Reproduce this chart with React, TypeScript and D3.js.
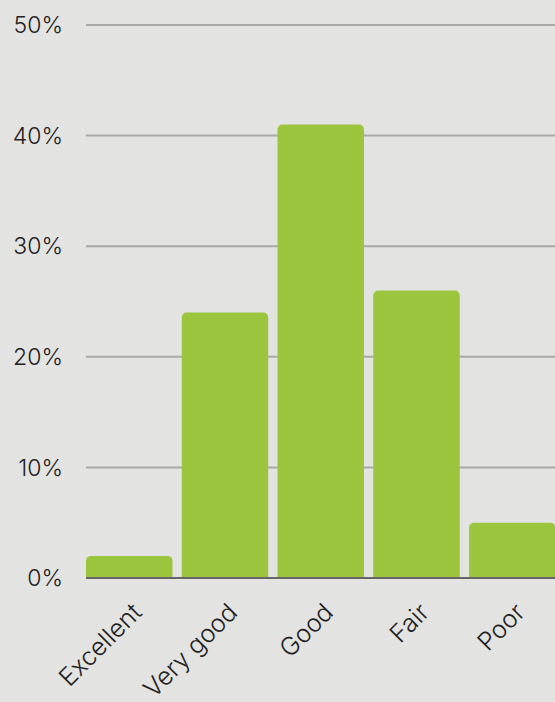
import React from "react";
import * as d3 from "d3";

const categories = ["Excellent", "Very good", "Good", "Fair", "Poor"];
const values = [2, 24, 41, 26, 5];
const yTicks = [0, 10, 20, 30, 40, 50];

const W = 555;
const H = 702;
const left = 86;
const bottom = 578;
const top = 25;

export default function App() {
  const x = d3.scaleBand<string>().domain(categories).range([left, 555.5]).paddingInner(0.097).paddingOuter(0);
  const y = d3.scaleLinear().domain([0, 50]).range([bottom, top]);
  const r = 5;
  const barPath = (cx: number, w: number, yTop: number) => {
    const p = d3.path();
    const rr = Math.min(r, (bottom - yTop));
    p.moveTo(cx, bottom);
    p.lineTo(cx, yTop + rr);
    p.arcTo(cx, yTop, cx + rr, yTop, rr);
    p.lineTo(cx + w - rr, yTop);
    p.arcTo(cx + w, yTop, cx + w, yTop + rr, rr);
    p.lineTo(cx + w, bottom);
    p.closePath();
    return p.toString();
  };
  const font = "Inter, 'Open Sans', sans-serif";
  return (
    <div style={{ position: "fixed", left: 0, top: 0, width: W, height: H }}>
      <svg width={W} height={H} style={{ display: "block" }}>
        <rect x={0} y={0} width={W} height={H} fill="#e3e3e2" />
        {yTicks.map((t) => (
          <g key={t}>
            {t > 0 && <line x1={left} x2={W} y1={y(t)} y2={y(t)} stroke="#a9a9a9" strokeWidth={2} />}
            <text x={63} y={y(t)} dy="0.36em" textAnchor="end" fontFamily={font} fontWeight={300} fontSize={23} fill="#222">
              {t}%
            </text>
          </g>
        ))}
        {categories.map((c, i) => (
          <path key={c} d={barPath(x(c)!, x.bandwidth(), y(values[i]))} fill="#9bc53d" />
        ))}
        <line x1={left} x2={W} y1={bottom} y2={bottom} stroke="#666" strokeWidth={2} />
        {categories.map((c) => {
          const cx = x(c)! + x.bandwidth() / 2 + 14;
          const cy = 614;
          return (
            <text key={c} x={cx} y={cy} textAnchor="end" fontFamily={font} fontWeight={300} fontSize={25} fill="#222" transform={`rotate(-45 ${cx} ${cy})`}>
              {c}
            </text>
          );
        })}
      </svg>
    </div>
  );
}
